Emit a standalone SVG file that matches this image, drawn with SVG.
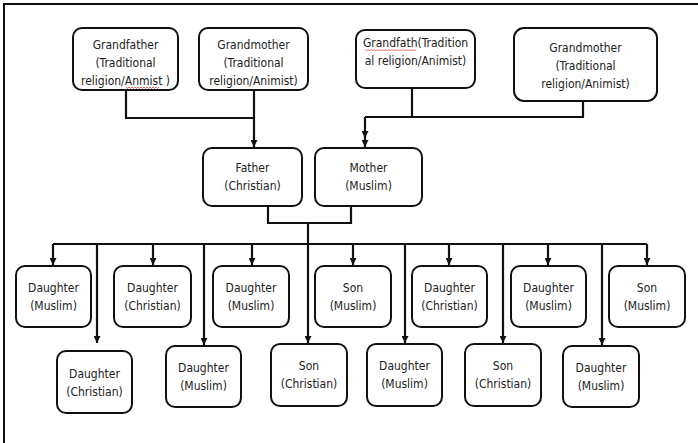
<svg xmlns="http://www.w3.org/2000/svg" width="698" height="443" viewBox="0 0 698 443">
<style>
.bx{fill:#fff;stroke:#111;stroke-width:2}
.t{font-family:"DejaVu Sans Condensed","DejaVu Sans",sans-serif;font-stretch:condensed;font-size:12px;fill:#222;text-anchor:middle}
.ln{fill:none;stroke:#111;stroke-width:2.2}
.sq{fill:none;stroke:#e0403a;stroke-width:0.8}
</style>
<defs>
<marker id="ah" viewBox="0 0 8 8" refX="8" refY="4" markerWidth="7" markerHeight="7" markerUnits="userSpaceOnUse" orient="auto">
<path d="M0,0 L8,4 L0,8 z" fill="#111"/>
</marker>
</defs>
<rect x="0" y="0" width="698" height="443" fill="#fff"/>
<rect x="4" y="4" width="700" height="450" fill="none" stroke="#111" stroke-width="2"/>

<g id="connectors">
<path class="ln" d="M126,90 V118 H254"/>
<path class="ln" d="M254,90 V147" marker-end="url(#ah)"/>
<path class="ln" d="M412,88 V117"/>
<path class="ln" d="M583,95 V117 H365"/>
<path class="ln" d="M365,117 V138" marker-end="url(#ah)"/>
<path class="ln" d="M365,130 V147" marker-end="url(#ah)"/>
<path class="ln" d="M268,207 V223 H351 V207"/>
<path class="ln" d="M308,223 V244"/>
<path class="ln" d="M53,244 H647" stroke-width="2.6"/>
<path class="ln" d="M53,244 V265" marker-end="url(#ah)"/>
<path class="ln" d="M153,244 V265" marker-end="url(#ah)"/>
<path class="ln" d="M252,244 V265" marker-end="url(#ah)"/>
<path class="ln" d="M353,244 V265" marker-end="url(#ah)"/>
<path class="ln" d="M449,244 V265" marker-end="url(#ah)"/>
<path class="ln" d="M548,244 V265" marker-end="url(#ah)"/>
<path class="ln" d="M647,244 V265" marker-end="url(#ah)"/>
<path class="ln" d="M97,244 V343" marker-end="url(#ah)"/>
<path class="ln" d="M204,244 V345" marker-end="url(#ah)"/>
<path class="ln" d="M308,244 V343" marker-end="url(#ah)"/>
<path class="ln" d="M405,244 V343" marker-end="url(#ah)"/>
<path class="ln" d="M503,244 V343" marker-end="url(#ah)"/>
<path class="ln" d="M602,244 V345" marker-end="url(#ah)"/>
</g>

<g id="grandfather1">
<rect class="bx" x="73" y="28" width="105" height="62" rx="9"/>
<text class="t" x="125.5" y="49">Grandfather</text>
<text class="t" x="125.5" y="67">(Traditional</text>
<text class="t" x="125.5" y="85">religion/Anmist )</text>
<path class="sq" d="M126,87 l1.5,1.5 l1.5,-1.5 l1.5,1.5 l1.5,-1.5 l1.5,1.5 l1.5,-1.5 l1.5,1.5 l1.5,-1.5 l1.5,1.5 l1.5,-1.5 l1.5,1.5 l1.5,-1.5 l1.5,1.5 l1.5,-1.5 l1.5,1.5 l1.5,-1.5 l1.5,1.5 l1.5,-1.5 l1.5,1.5 l1.5,-1.5 l1.5,1.5 l1.5,-1.5"/>
</g>
<g id="grandmother1">
<rect class="bx" x="199" y="28" width="109" height="62" rx="9"/>
<text class="t" x="253.5" y="49">Grandmother</text>
<text class="t" x="253.5" y="67">(Traditional</text>
<text class="t" x="253.5" y="85">religion/Animist)</text>
</g>
<g id="grandfather2">
<rect class="bx" x="356" y="30" width="119" height="58" rx="9"/>
<text class="t" x="415.5" y="47">Grandfath(Tradition</text>
<text class="t" x="415.5" y="65">al religion/Animist)</text>
<path class="sq" d="M365,49.5 l1.5,1.5 l1.5,-1.5 l1.5,1.5 l1.5,-1.5 l1.5,1.5 l1.5,-1.5 l1.5,1.5 l1.5,-1.5 l1.5,1.5 l1.5,-1.5 l1.5,1.5 l1.5,-1.5 l1.5,1.5 l1.5,-1.5 l1.5,1.5 l1.5,-1.5 l1.5,1.5 l1.5,-1.5 l1.5,1.5 l1.5,-1.5 l1.5,1.5 l1.5,-1.5 l1.5,1.5 l1.5,-1.5 l1.5,1.5 l1.5,-1.5 l1.5,1.5 l1.5,-1.5 l1.5,1.5 l1.5,-1.5 l1.5,1.5 l1.5,-1.5 l1.5,1.5 l1.5,-1.5"/>
</g>
<g id="grandmother2">
<rect class="bx" x="514" y="28" width="143" height="73" rx="10"/>
<text class="t" x="585.5" y="52">Grandmother</text>
<text class="t" x="585.5" y="70">(Traditional</text>
<text class="t" x="585.5" y="88">religion/Animist)</text>
</g>

<g id="father">
<rect class="bx" x="203" y="148" width="99" height="58" rx="9"/>
<text class="t" x="252.5" y="172">Father</text>
<text class="t" x="252.5" y="190">(Christian)</text>
</g>
<g id="mother">
<rect class="bx" x="315" y="148" width="107" height="58" rx="9"/>
<text class="t" x="368.5" y="172">Mother</text>
<text class="t" x="368.5" y="190">(Muslim)</text>
</g>

<g id="child1">
<rect class="bx" x="16" y="266" width="75" height="61" rx="9"/>
<text class="t" x="53.5" y="292">Daughter</text>
<text class="t" x="53.5" y="310">(Muslim)</text>
</g>
<g id="child2">
<rect class="bx" x="57" y="351" width="75" height="62" rx="9"/>
<text class="t" x="94.5" y="378">Daughter</text>
<text class="t" x="94.5" y="396">(Christian)</text>
</g>
<g id="child3">
<rect class="bx" x="114" y="266" width="77" height="61" rx="9"/>
<text class="t" x="152.5" y="292">Daughter</text>
<text class="t" x="152.5" y="310">(Christian)</text>
</g>
<g id="child4">
<rect class="bx" x="166" y="346" width="75" height="61" rx="9"/>
<text class="t" x="203.5" y="372">Daughter</text>
<text class="t" x="203.5" y="390">(Muslim)</text>
</g>
<g id="child5">
<rect class="bx" x="213" y="266" width="76" height="61" rx="9"/>
<text class="t" x="251" y="292">Daughter</text>
<text class="t" x="251" y="310">(Muslim)</text>
</g>
<g id="child6">
<rect class="bx" x="271" y="344" width="76" height="62" rx="9"/>
<text class="t" x="309" y="370">Son</text>
<text class="t" x="309" y="388">(Christian)</text>
</g>
<g id="child7">
<rect class="bx" x="315" y="266" width="76" height="61" rx="9"/>
<text class="t" x="353" y="292">Son</text>
<text class="t" x="353" y="310">(Muslim)</text>
</g>
<g id="child8">
<rect class="bx" x="367" y="344" width="75" height="62" rx="9"/>
<text class="t" x="404.5" y="370">Daughter</text>
<text class="t" x="404.5" y="388">(Muslim)</text>
</g>
<g id="child9">
<rect class="bx" x="412" y="266" width="75" height="61" rx="9"/>
<text class="t" x="449.5" y="292">Daughter</text>
<text class="t" x="449.5" y="310">(Christian)</text>
</g>
<g id="child10">
<rect class="bx" x="465" y="344" width="76" height="62" rx="9"/>
<text class="t" x="503" y="370">Son</text>
<text class="t" x="503" y="388">(Christian)</text>
</g>
<g id="child11">
<rect class="bx" x="511" y="266" width="75" height="61" rx="9"/>
<text class="t" x="548.5" y="292">Daughter</text>
<text class="t" x="548.5" y="310">(Muslim)</text>
</g>
<g id="child12">
<rect class="bx" x="563" y="346" width="76" height="61" rx="9"/>
<text class="t" x="601" y="372">Daughter</text>
<text class="t" x="601" y="390">(Muslim)</text>
</g>
<g id="child13">
<rect class="bx" x="609" y="266" width="76" height="61" rx="9"/>
<text class="t" x="647" y="292">Son</text>
<text class="t" x="647" y="310">(Muslim)</text>
</g>
</svg>
